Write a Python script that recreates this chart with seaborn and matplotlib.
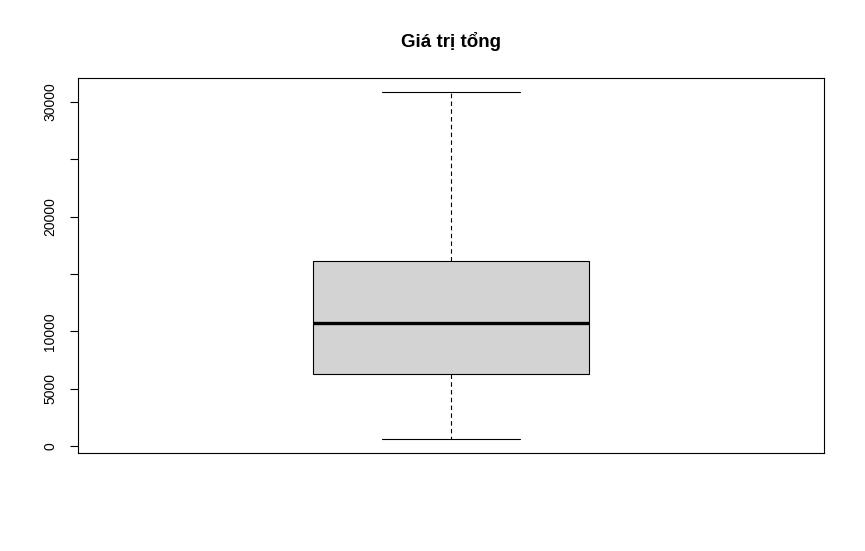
import numpy as np
import pandas as pd
import matplotlib
matplotlib.use("Agg")
import matplotlib.pyplot as plt
import seaborn as sns

# Tóm tắt năm số: min, Q1, trung vị, Q3, max
gia_tri_tong = [610, 6279, 10727, 16133, 30900]
y_ticks = [0, 5000, 10000, 15000, 20000, 25000, 30000]
y_labels = ["0", "5000", "10000", "", "20000", "", "30000"]
tieu_de = "Giá trị tổng"

sns.set_style("ticks")
plt.rcParams["font.family"] = ["Liberation Sans", "DejaVu Sans"]
plt.rcParams["text.color"] = "black"

df = pd.DataFrame({"gia_tri": gia_tri_tong})

fig = plt.figure(figsize=(8.65, 5.51), dpi=100)
ax = fig.add_axes([78 / 865, 98 / 551, 746 / 865, 375 / 551])

sns.boxplot(data=df, y="gia_tri", ax=ax, width=0.4, saturation=1,
            color="#d3d3d3", linecolor="black", linewidth=0.8, whis=1.5,
            medianprops=dict(linewidth=2.4, color="black"),
            whiskerprops=dict(linestyle=(0, (4, 3))),
            boxprops=dict(facecolor="#d3d3d3", edgecolor="black"))

ax.set_xlim(-0.54, 0.54)
ax.set_ylim(-610, 32100)
ax.set_yticks(y_ticks)
ax.set_yticklabels(y_labels, rotation=90, va="center", fontsize=10)
ax.set_xticks([])
ax.set_xlabel("")
ax.set_ylabel("")
ax.tick_params(axis="y", length=6, width=0.8, pad=9, colors="black")
for s in ax.spines.values():
    s.set_visible(True)
    s.set_linewidth(0.8)
    s.set_color("black")

fig.text(451 / 865, 1 - 41 / 551, tieu_de, ha="center", va="center",
         fontsize=13.5, fontweight="bold", color="black")

fig.savefig("out.png", dpi=100)
